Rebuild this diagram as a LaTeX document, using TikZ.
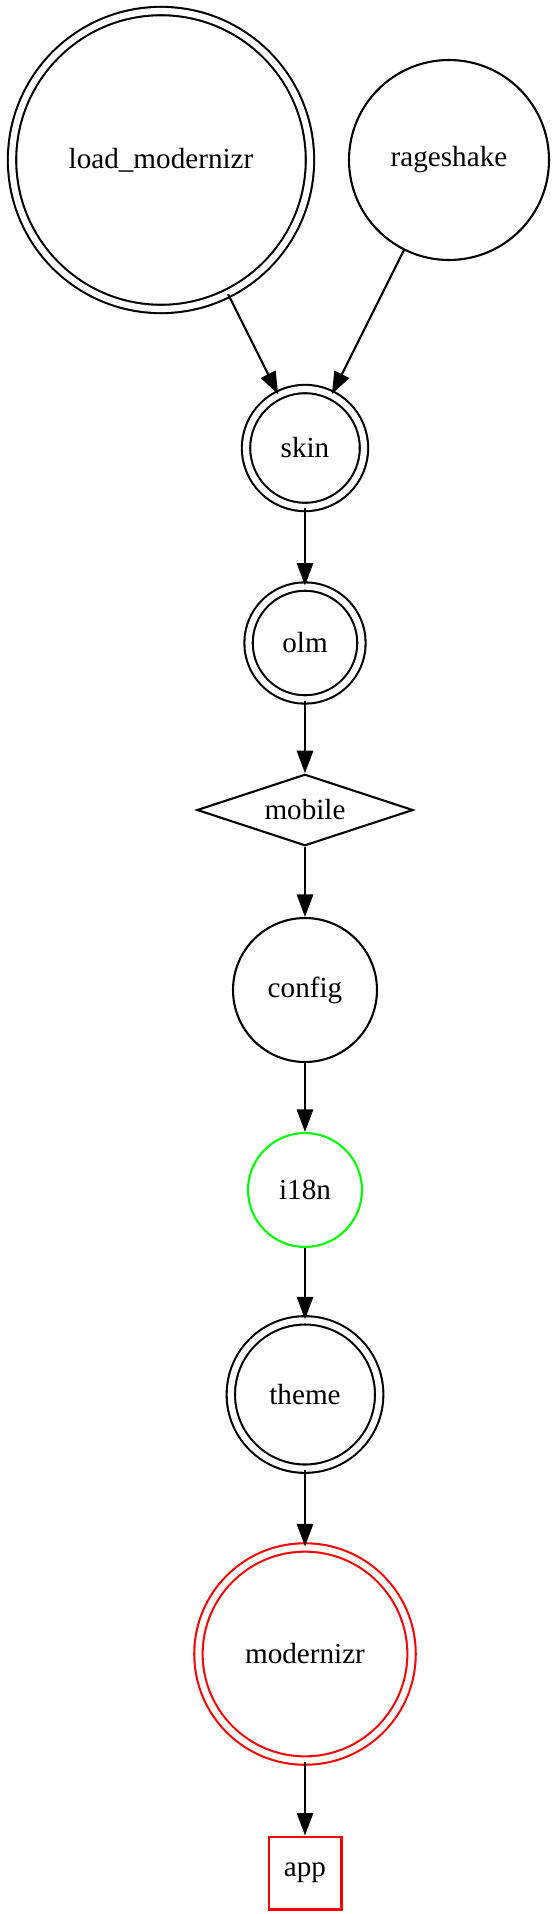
\documentclass[tikz,border=0pt]{standalone}
\usepackage{fontspec}
\setmainfont{Liberation Serif}
\usetikzlibrary{shapes.geometric}
\usetikzlibrary{arrows.meta}
\definecolor{gvgreen}{RGB}{0,255,0}
\begin{document}
\begin{tikzpicture}[x=0.48pt,y=-0.48pt,line width=1pt,
every node/.style={font=\fontsize{14pt}{16pt}\selectfont,inner sep=0pt},
ring/.style={circle,draw},
ringring/.style={circle,draw,double,double distance=3pt},
edge/.style={-{Triangle[length=10.8pt,width=7.8pt]}}]
\useasboundingbox (0,0) rectangle (556,1914);
\node[ringring,minimum size=143pt] (load_modernizr) at (161,160) {load\_modernizr};
\node[ring,minimum size=96pt] (rageshake) at (449,160) {rageshake};
\node[ringring,minimum size=56.6pt] (skin) at (305,448) {skin};
\node[ringring,minimum size=54.2pt] (olm) at (305,643) {olm};
\node[diamond,draw,aspect=3,minimum width=103.7pt,minimum height=34.3pt] (mobile) at (305,810) {mobile};
\node[ring,minimum size=69.1pt] (config) at (305,990) {config};
\node[ring,draw=gvgreen,minimum size=54.7pt] (i18n) at (305,1190) {i18n};
\node[ringring,minimum size=71.2pt] (theme) at (305,1394.5) {theme};
\node[ringring,draw=red,minimum size=102.3pt] (modernizr) at (305,1654) {modernizr};
\node[rectangle,draw=red,minimum size=35pt] (app) at (305,1873) {app};
\draw[edge] (load_modernizr) -- (skin);
\draw[edge] (rageshake) -- (skin);
\draw[edge] (skin) -- (olm);
\draw[edge] (olm) -- (mobile);
\draw[edge] (mobile) -- (config);
\draw[edge] (config) -- (i18n);
\draw[edge] (i18n) -- (theme);
\draw[edge] (theme) -- (modernizr);
\draw[edge] (modernizr) -- (app);
\end{tikzpicture}
\end{document}
